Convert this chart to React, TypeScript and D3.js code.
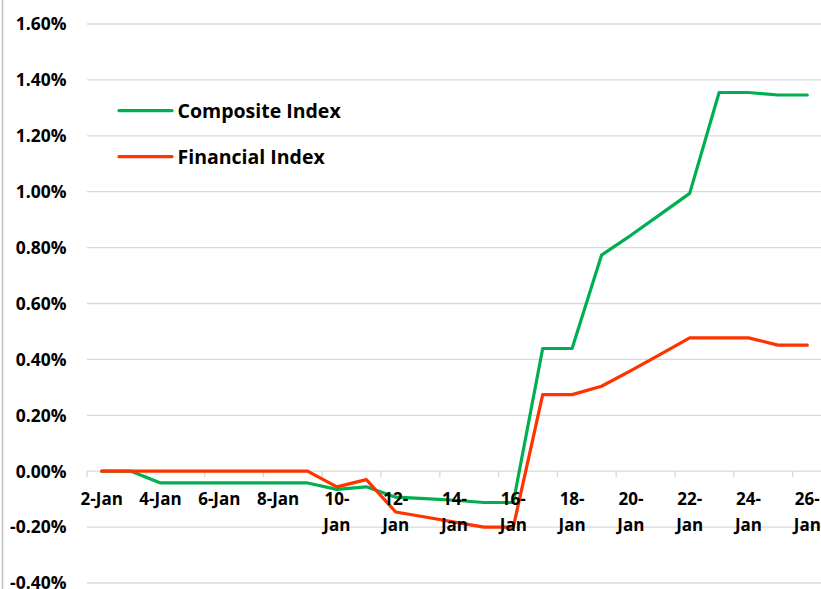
import React, { useEffect, useRef } from "react";
import * as d3 from "d3";

// trading days shown on the category axis (one slot per day)
const days = [
  "2-Jan", "3-Jan", "4-Jan", "5-Jan", "6-Jan", "7-Jan", "8-Jan", "9-Jan",
  "10-Jan", "11-Jan", "12-Jan", "13-Jan", "14-Jan", "15-Jan", "16-Jan",
  "17-Jan", "18-Jan", "19-Jan", "20-Jan", "21-Jan", "22-Jan", "23-Jan",
  "24-Jan", "25-Jan", "26-Jan",
];

// cumulative change, in percent
const composite = [
  0, 0, -0.042, -0.042, -0.042, -0.042, -0.042, -0.042, -0.065, -0.056,
  -0.093, -0.098, -0.104, -0.112, -0.112, 0.439, 0.439, 0.773, 0.844,
  0.919, 0.994, 1.355, 1.355, 1.346, 1.346,
];
const financial = [
  0, 0, 0, 0, 0, 0, 0, 0, -0.056, -0.03, -0.146, -0.164, -0.182, -0.2,
  -0.2, 0.274, 0.274, 0.304, 0.36, 0.418, 0.477, 0.477, 0.477, 0.451,
  0.451,
];

const yTicks = [-0.4, -0.2, 0, 0.2, 0.4, 0.6, 0.8, 1.0, 1.2, 1.4, 1.6];

const seriesList = [
  { name: "Composite Index", values: composite, color: "#00B050" },
  { name: "Financial Index", values: financial, color: "#FF3300" },
];

const width = 821;
const height = 589;
const font = "'Open Sans', 'Noto Sans', sans-serif";

export default function App() {
  const ref = useRef<SVGSVGElement>(null);

  useEffect(() => {
    document.body.style.margin = "0";
    const svg = d3.select(ref.current);
    svg.selectAll("*").remove();

    const x = d3.scaleBand().domain(days).range([87, 822]).padding(0);
    const y = d3.scaleLinear().domain([-0.4, 1.6]).range([583, 24]);

    svg
      .append("rect")
      .attr("width", width)
      .attr("height", height)
      .attr("fill", "#fff");

    // chart frame (only the left edge falls inside the picture)
    svg
      .append("line")
      .attr("x1", 2.5)
      .attr("x2", 2.5)
      .attr("y1", 0)
      .attr("y2", height)
      .attr("stroke", "#BFBFBF")
      .attr("stroke-width", 1.5);

    // gridlines + y labels
    const yAxis = svg.append("g");
    yAxis
      .selectAll("line")
      .data(yTicks)
      .join("line")
      .attr("x1", 87)
      .attr("x2", width)
      .attr("y1", (d) => y(d))
      .attr("y2", (d) => y(d))
      .attr("stroke", "#D9D9D9")
      .attr("stroke-width", 1.3);
    yAxis
      .selectAll("text")
      .data(yTicks)
      .join("text")
      .attr("x", 66.5)
      .attr("y", (d) => y(d))
      .attr("dy", "0.36em")
      .attr("text-anchor", "end")
      .attr("font-family", font)
      .attr("font-weight", 700)
      .attr("font-size", 17.5)
      .attr("fill", "#000")
      .text((d) => d.toFixed(2) + "%");

    // category tick marks every second day, on slot boundaries
    const tickDays = days.filter((_, i) => i % 2 === 0);
    svg
      .append("g")
      .selectAll("line")
      .data(tickDays)
      .join("line")
      .attr("x1", (d) => x(d)!)
      .attr("x2", (d) => x(d)!)
      .attr("y1", y(0))
      .attr("y2", y(0) + 6)
      .attr("stroke", "#D9D9D9")
      .attr("stroke-width", 1.3);

    // lines
    const line = d3
      .line<number>()
      .x((_, i) => x(days[i])! + x.bandwidth() / 2)
      .y((d) => y(d));
    svg
      .append("g")
      .selectAll("path")
      .data(seriesList)
      .join("path")
      .attr("d", (s) => line(s.values))
      .attr("fill", "none")
      .attr("stroke", (s) => s.color)
      .attr("stroke-width", 3.2)
      .attr("stroke-linejoin", "round")
      .attr("stroke-linecap", "round");

    // category labels (drawn above the lines, as in the original)
    const xLabels = svg.append("g");
    tickDays.forEach((d) => {
      const cx = x(d)! + x.bandwidth() / 2;
      const [num, mon] = d.split("-");
      const t = xLabels
        .append("text")
        .attr("x", cx)
        .attr("text-anchor", "middle")
        .attr("font-family", font)
        .attr("font-weight", 700)
        .attr("font-size", 17)
        .attr("fill", "#000");
      if (+num < 10) {
        t.attr("y", 499).attr("dy", "0.36em").text(d);
      } else {
        t.append("tspan").attr("x", cx).attr("y", 499).attr("dy", "0.36em").text(num + "-");
        t.append("tspan").attr("x", cx).attr("y", 525).attr("dy", "0.36em").text(mon);
      }
    });

    // legend
    const legend = svg
      .append("g")
      .selectAll("g")
      .data(seriesList)
      .join("g")
      .attr("transform", (_, i) => `translate(119,${110.7 + i * 46})`);
    legend
      .append("line")
      .attr("x1", 0)
      .attr("x2", 53)
      .attr("stroke", (s) => s.color)
      .attr("stroke-width", 3.2)
      .attr("stroke-linecap", "round");
    legend
      .append("text")
      .attr("x", 58.5)
      .attr("dy", "0.36em")
      .attr("font-family", font)
      .attr("font-weight", 700)
      .attr("font-size", 19.5)
      .attr("fill", "#000")
      .text((s) => s.name);
  }, []);

  return <svg ref={ref} width={width} height={height} style={{ display: "block" }} />;
}
